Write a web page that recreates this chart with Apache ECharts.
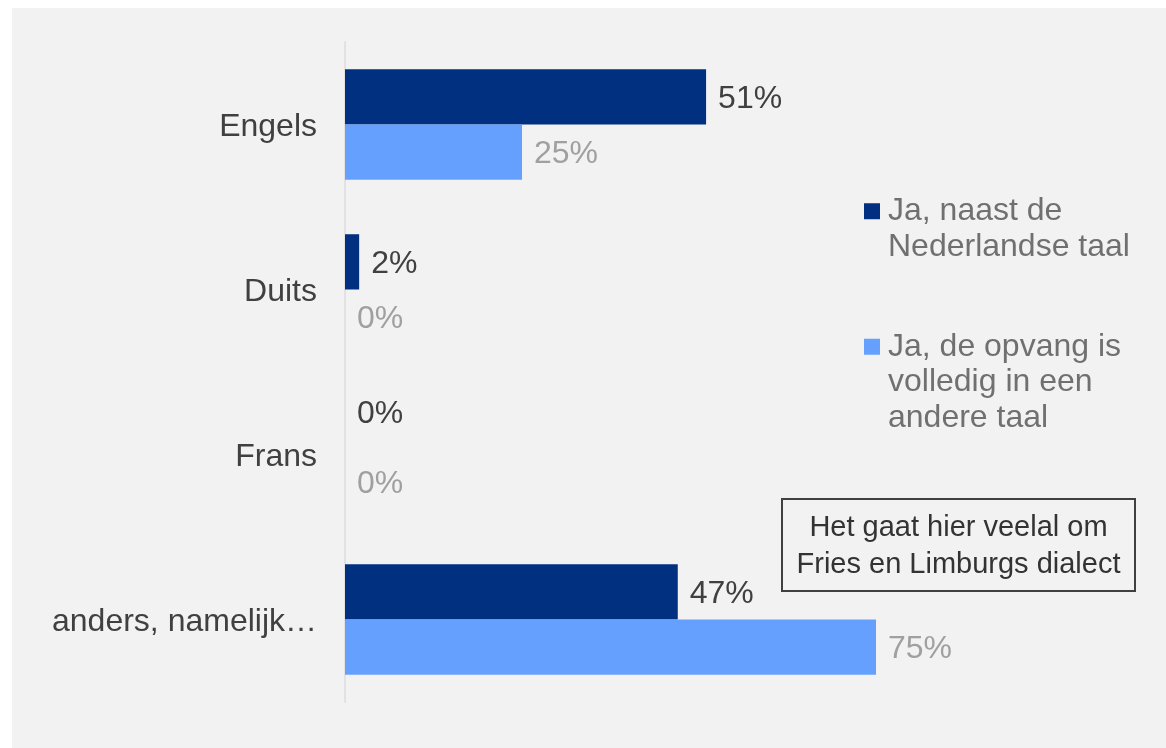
<!DOCTYPE html>
<html>
<head>
<meta charset="utf-8">
<script src="https://cdn.jsdelivr.net/npm/echarts@6/dist/echarts.min.js"></script>
<style>
  html, body { margin: 0; padding: 0; background: #ffffff; }
  #chart { position: absolute; left: 12px; top: 8px; width: 1154px; height: 740px; background: #f2f2f2; }
</style>
</head>
<body>
<div id="chart"></div>
<script>
// Talen die op de opvang worden gesproken
const categories = ['Engels', 'Duits', 'Frans', 'anders, namelijk…'];
const seriesNames = ['Ja, naast de Nederlandse taal', 'Ja, de opvang is volledig in een andere taal'];
const naastNederlands = [51, 2, 0, 47];
const volledigAndereTaal = [25, 0, 0, 75];
const noteText = 'Het gaat hier veelal om\nFries en Limburgs dialect';

const FONT = '"Liberation Sans", Arial, sans-serif';
const darkBlue = '#00307f';
const lightBlue = '#65a0ff';
const LINE = 35.5;

const chart = echarts.init(document.getElementById('chart'), null, { renderer: 'canvas' });

// One legend per series; leading blank lines keep the square level with the first text line
function legendFor(name, lines, top) {
  return {
    orient: 'vertical',
    left: 852,
    top: top,
    padding: 0,
    itemWidth: 16,
    itemHeight: 16,
    icon: 'rect',
    selectedMode: false,
    data: [name],
    formatter: n => '\n'.repeat(lines - 1) + n,
    textStyle: {
      fontFamily: FONT,
      fontSize: 32,
      color: '#707070',
      lineHeight: LINE,
      width: 260,
      overflow: 'break',
      padding: [4, 0, 0, 3]
    }
  };
}

const valueLabel = color => ({
  show: true,
  position: 'right',
  distance: 12,
  offset: [0, 2.5],
  formatter: '{c}%',
  fontFamily: FONT,
  fontSize: 32,
  color: color
});

// the zero label for "Frans" sits higher up, clear of the second bar's label
const darkData = naastNederlands.map((v, i) =>
  (v === 0 && volledigAndereTaal[i] === 0) ? { value: v, label: { offset: [0, -13] } } : v
);

chart.setOption({
  animation: false,
  backgroundColor: 'transparent',
  grid: { left: 333, top: 34, width: 708, bottom: 46, containLabel: false },
  xAxis: {
    type: 'value',
    min: 0,
    max: 100,
    show: false
  },
  yAxis: {
    type: 'category',
    data: categories,
    inverse: true,
    axisLine: { show: true, lineStyle: { color: '#e2e2e2', width: 2 } },
    axisTick: { show: false },
    splitLine: { show: false },
    axisLabel: {
      margin: 28,
      formatter: v => '{cat|' + v + '}',
      rich: {
        cat: {
          fontFamily: FONT,
          fontSize: 32,
          color: '#404040',
          padding: [6, 0, 0, 0]
        }
      }
    }
  },
  legend: [
    legendFor(seriesNames[0], 2, 148),
    legendFor(seriesNames[1], 3, 248)
  ],
  series: [
    {
      name: seriesNames[0],
      type: 'bar',
      data: darkData,
      barGap: '0%',
      barCategoryGap: '33%',
      itemStyle: { color: darkBlue },
      label: valueLabel('#404040')
    },
    {
      name: seriesNames[1],
      type: 'bar',
      data: volledigAndereTaal,
      barGap: '0%',
      barCategoryGap: '33%',
      itemStyle: { color: lightBlue },
      label: valueLabel('#a0a0a0')
    }
  ],
  graphic: [
    {
      type: 'group',
      left: 769,
      top: 490,
      children: [
        {
          type: 'rect',
          shape: { x: 0, y: 0, width: 353, height: 92 },
          style: { fill: 'transparent', stroke: '#404040', lineWidth: 2 }
        },
        {
          type: 'text',
          x: 176.5,
          y: 47,
          style: {
            text: noteText,
            font: '29px ' + FONT,
            fill: '#333333',
            align: 'center',
            verticalAlign: 'middle',
            lineHeight: 37
          }
        }
      ]
    }
  ]
});
</script>
</body>
</html>
